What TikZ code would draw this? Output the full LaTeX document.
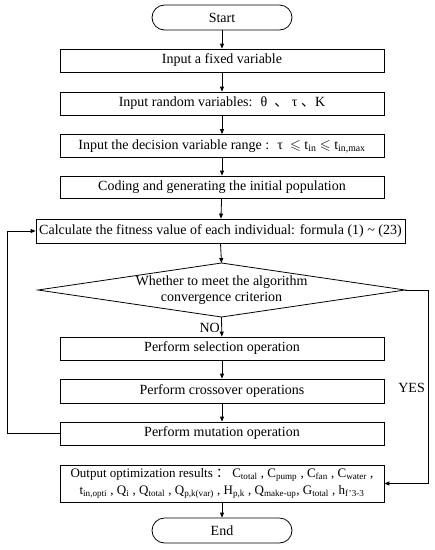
\documentclass[tikz,border=0pt]{standalone}
\usepackage{amssymb}
\usepackage{fontspec}
\setmainfont{Liberation Serif}
\newfontfamily\cjk{Noto Sans CJK SC}
\usetikzlibrary{arrows.meta,calc}
\begin{document}
\begin{tikzpicture}[x=1pt,y=-1pt,
  every node/.style={font=\fontsize{14}{16}\selectfont},
  proc/.style={draw,line width=0.8pt,minimum width=324pt,minimum height=23pt,inner sep=1pt,align=center},
  term/.style={draw,line width=0.8pt,rounded corners=12.5pt,minimum width=140pt,minimum height=25pt,inner sep=1pt},
  flow/.style={line width=0.8pt,-{Triangle[length=5pt,width=4pt]}},
  lab/.style={inner sep=0pt}]
\useasboundingbox (0,0) rectangle (435,550);
\node[term] (start) at (222,17.5) {Start};
\node[proc] (b1) at (222,60.5) {Input a fixed variable};
\node[proc] (b2) at (222,103.5) {Input random variables:~ θ~ {\cjk 、}~τ~{\cjk 、}K};
\node[proc] (b3) at (222,146) {Input the decision variable range :~ τ~ $\leqslant$ t\textsubscript{in} $\leqslant$ t\textsubscript{in,max}};
\node[proc,minimum height=22pt] (b4) at (222,187) {Coding and generating the initial population};
\node[proc,minimum width=369pt,minimum height=24pt] (calc) at (220.5,231) {Calculate the fitness value of each individual: formula (1) \textasciitilde{} (23)};
\draw[line width=0.8pt] (38,290) coordinate (dl) -- (221.5,263) coordinate (dt) -- (405,290) coordinate (dr) -- (221.5,317) coordinate (db) -- cycle;
\node[align=center,inner sep=0pt,font=\fontsize{14}{16}\selectfont] (dtext) at (221.5,290) {Whether to meet the algorithm\\convergence criterion};
\node[proc] (sel) at (222,348.5) {Perform selection operation};
\node[proc,minimum height=24pt] (cross) at (222,391) {Perform crossover operations};
\node[proc] (mut) at (222,433.5) {Perform mutation operation};
\node[proc,minimum height=37pt,inner sep=0pt,font=\fontsize{13}{17}\selectfont] (out) at (222,483.5) {Output optimization results {\cjk ：} C\textsubscript{total} , C\textsubscript{pump} , C\textsubscript{fan} , C\textsubscript{water} ,\\
t\textsubscript{in,opti} , Q\textsubscript{i} , Q\textsubscript{total} , Q\textsubscript{p,k(var)} , H\textsubscript{p,k} , Q\textsubscript{make-up}, G\textsubscript{total} , h\textsubscript{f'3-3}};
\node[term] (end) at (222,530.5) {End};
\coordinate (fb) at (7,433.5);
\coordinate (yr) at (428,290);
\draw[flow] (start) -- (b1);
\draw[flow] (b1) -- (b2);
\draw[flow] (b2) -- (b3);
\draw[flow] (b3) -- (b4);
\draw[flow] (b4) -- (calc);
\draw[flow] (calc.south) -- (dt);
\draw[flow] (db) -- (sel);
\node[lab,anchor=east] (no) at (220,328) {NO};
\draw[flow] (sel) -- (cross);
\draw[flow] (cross) -- (mut);
\draw[flow] (mut.west) -- (fb) |- (calc.west);
\draw[flow] (dr) -- (yr) |- (out.east);
\node[lab,anchor=east] (yes) at (425,388) {YES};
\draw[flow] (out) -- (end);
\end{tikzpicture}
\end{document}
